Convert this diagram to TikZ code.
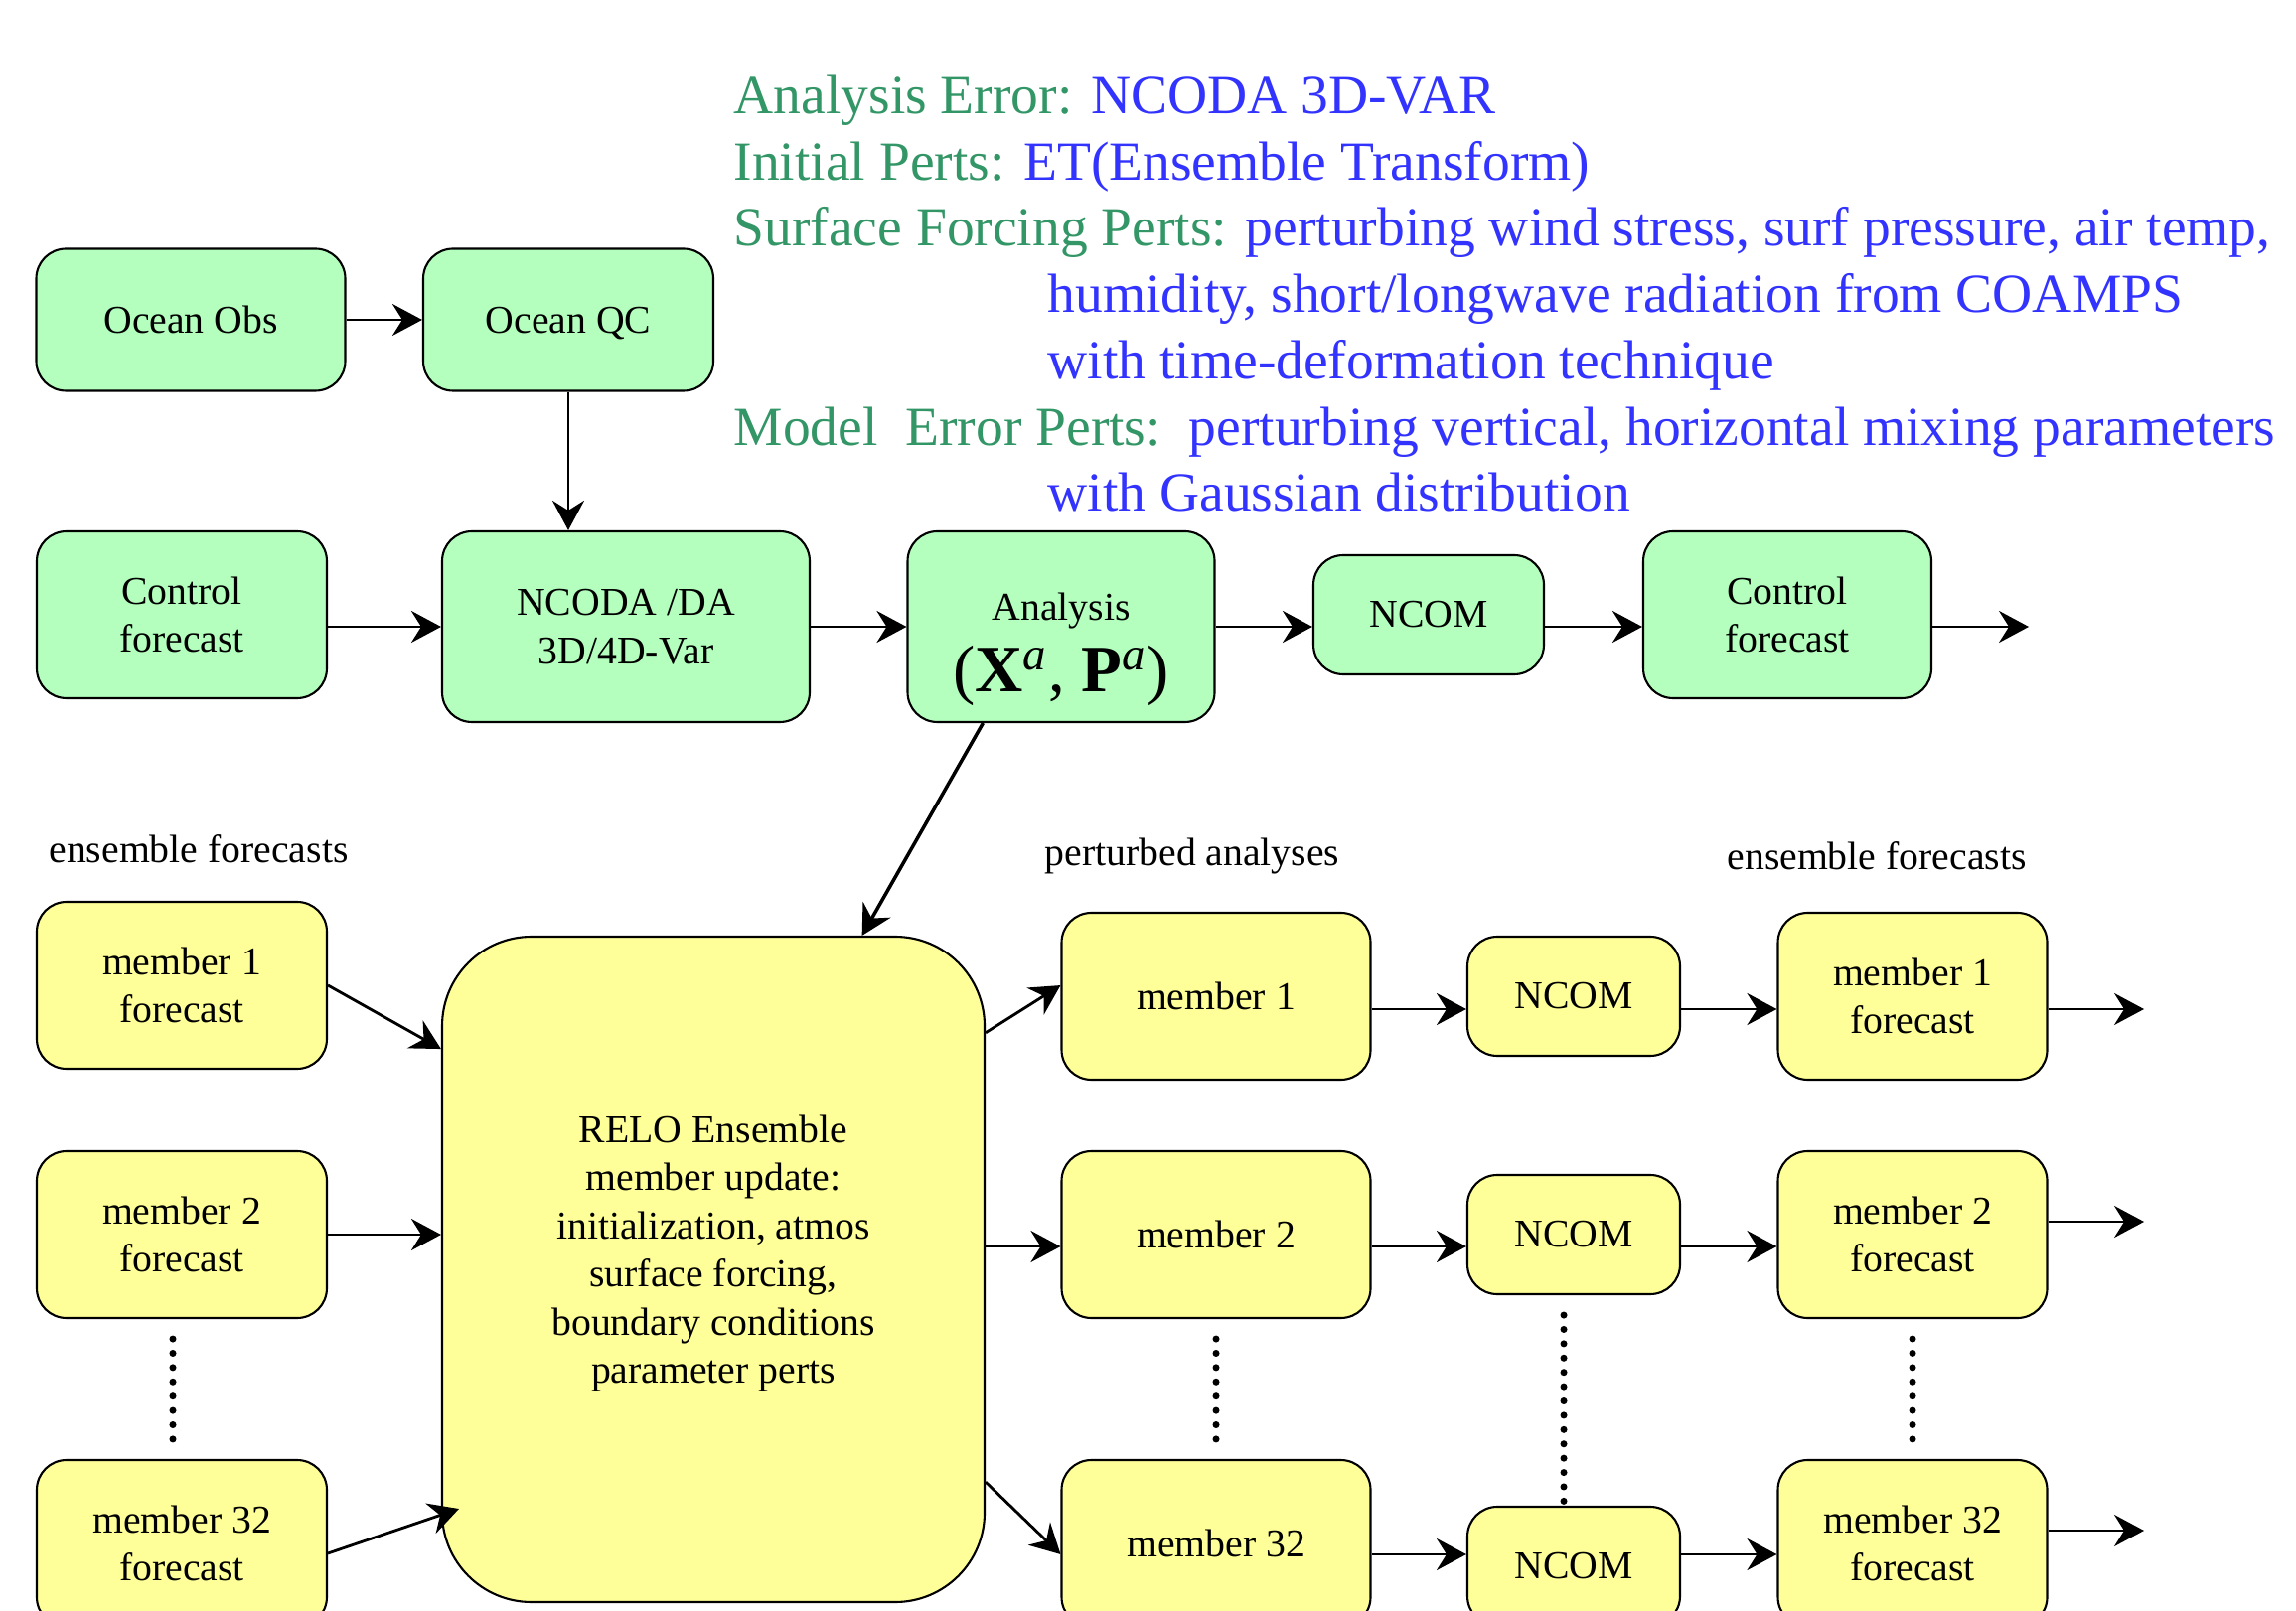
\documentclass[tikz,border=0pt]{standalone}
\usepackage{fontspec}
\setmainfont{Liberation Serif}
\usetikzlibrary{arrows.meta,calc}
\definecolor{boxgreen}{RGB}{180,255,190}
\definecolor{boxyellow}{RGB}{255,255,153}
\definecolor{txtgreen}{RGB}{51,150,102}
\definecolor{txtblue}{RGB}{51,51,255}
\tikzset{
  gbox/.style={draw, fill=boxgreen, rounded corners=3mm, align=center, inner sep=0pt, line width=0.6pt},
  ybox/.style={gbox, fill=boxyellow},
  arr/.style={-{Stealth[length=3mm,width=3.2mm,inset=1mm]}, line width=0.8pt},
  dotcol/.style={line width=2pt, dash pattern=on 0pt off 4.1pt, line cap=round, shorten <=2mm, shorten >=1mm},
}
\newcommand{\bfsup}[1]{\textbf{#1}\textsuperscript{\textit{a}}}
\begin{document}
\begin{tikzpicture}[x=0.1mm, y=-0.1mm, every node/.style={font=\fontsize{11.3}{13.8}\selectfont}]
\useasboundingbox (0,0) rectangle (2311,1622);
\node[anchor=base west, align=left, inner sep=0pt, font=\fontsize{15.8}{19}\selectfont, text=txtgreen] (notes) at (738,515)
 {Analysis Error: {\color{txtblue}NCODA 3D-VAR}\\
  Initial Perts: {\color{txtblue}ET(Ensemble Transform)}\\
  Surface Forcing Perts: {\color{txtblue}perturbing wind stress, surf pressure, air temp,}\\
  \hspace*{31.6mm}{\color{txtblue}humidity, short/longwave radiation from COAMPS}\\
  \hspace*{31.6mm}{\color{txtblue}with time-deformation technique}\\
  Model\ \ Error Perts:\ \ {\color{txtblue}perturbing vertical, horizontal mixing parameters}\\
  \hspace*{31.6mm}{\color{txtblue}with Gaussian distribution}};
% control cycle
\node[gbox, minimum width=31.1mm, minimum height=14.3mm] (obs) at (192,322) {Ocean Obs};
\node[gbox, minimum width=29.2mm, minimum height=14.3mm, text depth=0pt] (qc) at (572,322) {Ocean QC};
\node[gbox, minimum width=29.2mm, minimum height=16.8mm] (ctrlA) at (183,619) {Control\\forecast};
\node[gbox, minimum width=37mm, minimum height=19.2mm] (ncoda) at (630,631) {NCODA /DA\\3D/4D-Var};
\node[gbox, minimum width=30.9mm, minimum height=19.2mm,
  label={[yshift=-2.3mm, align=center]center:Analysis\\[4pt]{\fontsize{19}{21}\selectfont(\bfsup{X}, \bfsup{P})}}] (anal) at (1068,631) {};
\node[gbox, minimum width=23.2mm, minimum height=12mm] (ncomA) at (1438,619) {NCOM};
\node[gbox, minimum width=29mm, minimum height=16.8mm] (ctrlB) at (1799,619) {Control\\forecast};
\coordinate (outA) at (2042,631);
\draw[arr] (obs.east) -- (qc.west);
\draw[arr] (qc.south) -- (qc.south |- ncoda.north);
\draw[arr] (ctrlA.east |- ncoda.west) -- (ncoda.west);
\draw[arr] (ncoda.east) -- (anal.west);
\draw[arr] (anal.east) -- (anal.east -| ncomA.west);
\draw[arr] (ncomA.east |- outA) -- (ctrlB.west |- outA);
\draw[arr] (ctrlB.east |- outA) -- (outA);
% ensemble
\node (lblA) at (200,855) {ensemble forecasts};
\node (lblB) at (1200,862) {perturbed analyses};
\node (lblC) at (1889,862) {ensemble forecasts};
\node[ybox, minimum width=29.2mm, minimum height=16.8mm] (fc1) at (183,992) {member 1\\forecast};
\node[ybox, minimum width=29.2mm, minimum height=16.8mm] (fc2) at (183,1243) {member 2\\forecast};
\node[ybox, minimum width=29.2mm, minimum height=16.8mm] (fc32) at (183,1554) {member 32\\forecast};
\node[ybox, rounded corners=9mm, minimum width=54.6mm, minimum height=67mm,
  label={[yshift=1.6mm, align=center]center:RELO Ensemble\\member update:\\initialization, atmos\\surface forcing,\\boundary conditions\\parameter perts}] (relo) at (718,1278) {};
\foreach \i/\y/\z in {1/1003/1003, 2/1243/1243, 32/1554/1577} {
  \node[ybox, minimum width=31.1mm, minimum height=16.8mm] (pa\i) at (1224,\y) {member \i};
  \node[ybox, minimum width=21.4mm, minimum height=12mm] (nc\i) at (1584,\z) {NCOM};
  \node[ybox, minimum width=27.1mm, minimum height=16.8mm] (ef\i) at (1925,\y) {member \i\\forecast};
}
\coordinate (r1) at (0,1016);
\coordinate (r2) at (0,1255);
\coordinate (r3) at (0,1565);
\coordinate (out1) at (2158,1016);
\coordinate (out2) at (2158,1230);
\coordinate (out3) at (2158,1541);
\draw[arr, line width=1pt] (anal.-129) -- (relo.66);
\draw[arr] (fc1.east) -- (relo.141.4);
\draw[arr] (fc2.east) -- (fc2.east -| relo.west);
\draw[arr] ([yshift=-1mm]fc32.east) -- ($(relo.south west)+(18,-95)$);
\draw[arr] (relo.41.2) -- (pa1.176);
\draw[arr] (relo.east |- r2) -- (pa2.west |- r2);
\draw[arr] (relo.-38.4) -- (pa32.184);
\foreach \i/\r in {1/r1, 2/r2, 32/r3} {
  \draw[arr] (pa\i.east |- \r) -- (nc\i.west |- \r);
  \draw[arr] (nc\i.east |- \r) -- (ef\i.west |- \r);
}
\draw[arr] (ef1.east |- out1) -- (out1);
\draw[arr] (ef2.east |- out2) -- (out2);
\draw[arr] (ef32.east |- out3) -- (out3);
\draw[dotcol] ([xshift=-0.9mm]fc2.south) -- ([xshift=-0.9mm]fc32.north);
\draw[dotcol] (pa2.south) -- (pa32.north);
\draw[dotcol, shorten >=0pt] ([xshift=-1mm]nc2.south) -- ([xshift=-1mm]nc32.north);
\draw[dotcol] (ef2.south) -- (ef32.north);
\end{tikzpicture}
\end{document}
